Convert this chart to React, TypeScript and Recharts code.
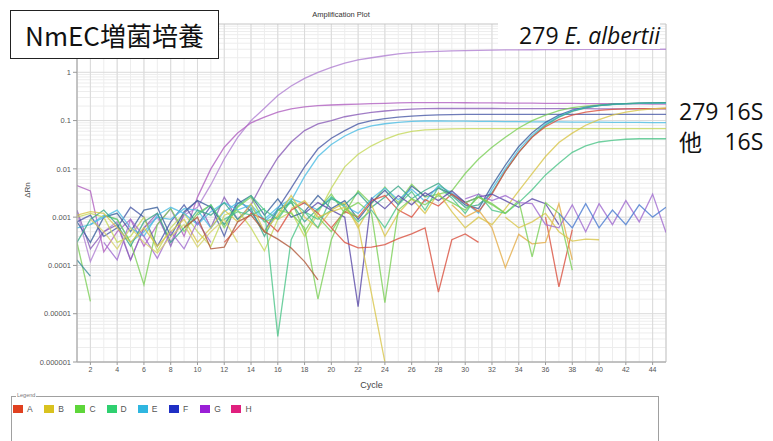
import { LineChart, Line, XAxis, YAxis, CartesianGrid, ReferenceArea } from 'recharts'

// x categories: PCR cycle numbers
const CYCLES = [
  1, 2, 3, 4, 5, 6, 7, 8, 9, 10, 11, 12, 13, 14, 15, 16, 17, 18, 19, 20, 21, 22, 23,
  24, 25, 26, 27, 28, 29, 30, 31, 32, 33, 34, 35, 36, 37, 38, 39, 40, 41, 42, 43, 44, 45,
]
const CYCLE_TICKS = [2, 4, 6, 8, 10, 12, 14, 16, 18, 20, 22, 24, 26, 28, 30, 32, 34, 36, 38, 40, 42, 44]
const RN_TICKS = [0.000001, 0.00001, 0.0001, 0.001, 0.01, 0.1, 1]
const WELL_ROWS = ['A', 'B', 'C', 'D', 'E', 'F', 'G', 'H']

// ΔRn, one value per cycle starting at the given cycle (missing = not drawn)
const at = (start: number, values: number[]) => CYCLES.map(c => values[c - start] ?? null)

// 279 E. albertii wells (early amplification)
const gTop = at(1, [
  1.3e-3, 1.2e-4, 5e-4, 8e-4, 1.3e-4, 6e-4, 1.0e-3, 3e-4, 1.1e-3, 1.6e-3,
  4.7e-3, 1.6e-2, 4.5e-2, 0.1, 0.18, 0.33, 0.52, 0.75, 1.0, 1.27,
  1.55, 1.8, 2.0, 2.2, 2.4, 2.55, 2.65, 2.72, 2.78, 2.82,
  2.85, 2.88, 2.9, 2.92, 2.93, 2.94, 2.95, 2.96, 2.97, 2.97,
  2.98, 2.98, 2.99, 2.99, 3.0,
])
const gSecond = at(1, [
  4.5e-3, 3.5e-3, 1.9e-4, 5e-4, 9e-4, 2.5e-4, 7e-4, 1.5e-3, 4e-4, 2.6e-3,
  1.0e-2, 2.8e-2, 5.5e-2, 0.09, 0.118, 0.15, 0.175, 0.193, 0.203, 0.21,
  0.215, 0.22, 0.225, 0.228, 0.232, 0.235, 0.236, 0.236, 0.235, 0.234,
  0.233, 0.232, 0.231, 0.23, 0.229, 0.228, 0.227, 0.226, 0.225, 0.224,
  0.223, 0.222, 0.221, 0.22, 0.22,
])
const gThird = at(1, [
  1.4e-3, 2.2e-4, 5e-4, 7e-4, 1.3e-4, 6e-4, 1.2e-3, 2.5e-4, 1.2e-3, 2.2e-3,
  6e-4, 2.6e-3, 9e-4, 1.8e-3, 6e-3, 1.7e-2, 3.6e-2, 6.2e-2, 8.5e-2, 0.1,
  0.12, 0.135, 0.148, 0.158, 0.166, 0.172, 0.176, 0.178, 0.178, 0.178,
  0.178, 0.178, 0.177, 0.177, 0.177, 0.176, 0.176, 0.176, 0.176, 0.175,
  0.175, 0.175, 0.175, 0.175, 0.175,
])
const fEarly = at(1, [
  8e-4, 1.1e-3, 4e-4, 6e-4, 1.6e-3, 1.0e-3, 2.5e-4, 8e-4, 1.8e-3, 7e-4,
  1.7e-3, 4e-4, 2.4e-3, 1.3e-3, 5e-4, 1.5e-3, 4.0e-3, 1.1e-2, 2.6e-2, 4.3e-2,
  6.2e-2, 8.5e-2, 0.1, 0.11, 0.118, 0.124, 0.128, 0.131, 0.133, 0.134,
  0.135, 0.135, 0.135, 0.135, 0.135, 0.135, 0.135, 0.135, 0.135, 0.135,
  0.135, 0.135, 0.135, 0.135, 0.135,
])
const eEarly = at(1, [
  6e-4, 7e-4, 1.1e-3, 9e-4, 3e-4, 5e-4, 1.0e-3, 9e-4, 1.5e-3, 1.4e-3,
  6e-4, 1.3e-3, 2.0e-3, 1.6e-3, 8e-4, 1.4e-3, 2.2e-3, 7e-3, 1.8e-2, 3.2e-2,
  4.8e-2, 6.5e-2, 7.8e-2, 8.6e-2, 9.2e-2, 9.6e-2, 9.8e-2, 9.8e-2, 9.7e-2, 9.7e-2,
  9.6e-2, 9.6e-2, 9.5e-2, 9.5e-2, 9.4e-2, 9.4e-2, 9.4e-2, 9.3e-2, 9.3e-2, 9.3e-2,
  9.2e-2, 9.2e-2, 9.2e-2, 9.1e-2, 9.1e-2,
])
const bcEarly = at(1, [
  1.0e-3, 1.2e-3, 1.0e-3, 3e-4, 4e-4, 1.0e-3, 2e-4, 6e-4, 1.2e-3, 5e-4,
  2.5e-4, 1.1e-3, 1.4e-3, 6e-4, 2e-4, 9e-4, 1.3e-3, 4e-4, 1.2e-3, 4.0e-3,
  1.1e-2, 2.0e-2, 3.0e-2, 4.1e-2, 5.2e-2, 6.0e-2, 6.4e-2, 6.6e-2, 6.7e-2, 6.8e-2,
  6.8e-2, 6.8e-2, 6.8e-2, 6.8e-2, 6.8e-2, 6.8e-2, 6.8e-2, 6.8e-2, 6.8e-2, 6.8e-2,
  6.8e-2, 6.8e-2, 6.8e-2, 6.8e-2, 6.8e-2,
])

// other strains, 16S (late amplification)
const cLate = at(3, [
  1.1e-3, 9e-4, 3e-4, 4e-5, 7e-4, 1.5e-3, 5e-4, 1.2e-3, 1.8e-3, 6e-4,
  1.6e-3, 2.6e-3, 8e-4, 1.0e-3, 2.2e-3, 5e-4, 1.4e-3, 3.0e-3, 1.2e-3, 3.5e-3,
  1.9e-3, 4.2e-3, 2.0e-3, 4.8e-3, 2.6e-3, 3.0e-3,
  3.5e-3, 8e-3, 1.6e-2, 2.8e-2, 4.5e-2, 7e-2, 0.1, 0.13, 0.16, 0.185,
  0.2, 0.21, 0.218, 0.224, 0.228, 0.231, 0.233,
])
const fLate = at(1, [
  8e-4, 3e-4, 1.0e-3, 1.2e-3, 5e-4, 1.4e-3, 1.6e-3, 4e-4, 1.3e-3, 2.2e-3,
  1.6e-3, 7e-4, 1.9e-3, 2.8e-3, 1.1e-3, 2.4e-3, 1.0e-3, 1.3e-3, 2.8e-3, 1.5e-3,
  2.2e-3, 9e-4, 2.0e-3, 3.6e-3, 1.8e-3, 4.4e-3, 2.7e-3, 4.0e-3, 3.0e-3, 1.8e-3,
  1.5e-3, 4.5e-3, 1.2e-2, 2.9e-2, 5.6e-2, 9.2e-2, 0.13, 0.165, 0.19, 0.207,
  0.218, 0.225, 0.229, 0.232, 0.234,
])
const eLate = at(2, [
  7e-4, 1.0e-3, 1.4e-3, 6e-4, 4e-4, 1.1e-3, 1.6e-3, 1.2e-3, 7e-4, 1.3e-3,
  2.0e-3, 1.4e-3, 1.8e-3, 9e-4, 1.6e-3, 2.4e-3, 1.9e-3, 1.4e-3, 2.6e-3, 1.7e-3,
  1.2e-3, 2.4e-3, 4.0e-3, 2.3e-3, 3.8e-3, 2.1e-3, 4.5e-3, 3.2e-3, 2.0e-3,
  1.2e-3, 3.8e-3, 1.0e-2, 2.5e-2, 5.0e-2, 8.5e-2, 0.122, 0.158, 0.185, 0.203,
  0.215, 0.222, 0.226, 0.229, 0.231,
])
const dLate = at(1, [
  3e-4, 9e-4, 1.4e-3, 7e-4, 2.5e-4, 8e-4, 1.2e-3, 3e-4, 6e-4, 1.4e-3,
  1.1e-3, 2.0e-3, 9e-4, 1.5e-3, 4e-4, 1.4e-3, 2.0e-3, 8e-4, 1.5e-3, 2.4e-3,
  1.8e-3, 3.2e-3, 1.6e-3, 2.6e-3, 4.4e-3, 2.4e-3, 3.6e-3, 5.0e-3, 2.8e-3, 1.6e-3,
  1.8e-3, 3.2e-3, 9e-3, 2.2e-2, 4.6e-2, 8e-2, 0.118, 0.155, 0.183, 0.203,
  0.216, 0.224, 0.229, 0.233, 0.236,
])
const aLate = at(12, [
  3e-4, 6e-4, 1.2e-3, 9e-4, 5e-4, 1.4e-3, 2.0e-3, 1.2e-3, 6e-4, 1.3e-3,
  1.0e-3, 2.2e-3, 2.8e-3, 1.4e-3, 1.0e-3, 2.3e-3, 1.7e-3, 3.0e-3, 2.0e-3, 1.3e-3,
  3.0e-3, 9e-3, 2.2e-2, 4.5e-2, 7.5e-2, 0.105, 0.13, 0.15, 0.162, 0.17,
  0.174, 0.176, 0.177, 0.178,
])
const bLate = at(1, [
  1.1e-3, 1.3e-3, 1.2e-3, 6e-4, 3e-4, 6e-4, 2.5e-4, 5e-4, 9e-4, 3e-4,
  6e-4, 1.4e-3, 8e-4, 1.9e-3, 5e-4, 1.1e-3, 2.8e-3, 1.0e-3, 6e-4, 1.4e-3,
  2.0e-3, 6e-4, 1.8e-3, 4e-4, 1.2e-3, 2.4e-3, 1.2e-3, 3.2e-3, 1.3e-3, 6e-4,
  1.0e-3, 7e-4, 1.5e-3, 3.5e-3, 8e-3, 1.8e-2, 3.5e-2, 5.5e-2, 8e-2, 0.105,
  0.13, 0.15, 0.165, 0.175, 0.182,
])
const dLow = at(10, [
  1.1e-3, 1.8e-3, 7e-4, 1.7e-3, 2.8e-3, 1.4e-3, 9e-4, 2.2e-3, 1.3e-3, 6e-4,
  2.6e-3, 1.6e-3, 8e-4, 1.4e-3, 6e-4, 1.8e-3, 3.4e-3, 1.4e-3, 4.2e-3, 2.5e-3,
  1.2e-3, 3.0e-3, 1.4e-3, 1.2e-3, 2.0e-3,
  3.7e-3, 7.5e-3, 1.3e-2, 2.2e-2, 3.0e-2, 3.6e-2, 3.9e-2, 4.1e-2, 4.2e-2, 4.2e-2, 4.2e-2,
])

// wells without amplification (noise only)
const cNoiseLeft = at(1, [3e-4, 1.8e-5])
const eNoiseLeft = at(1, [1.3e-4, 6e-5])
const gNoiseLeft = at(3, [3e-4, 1.3e-4, 9e-4, 4e-4, 1.4e-4, 5e-4, 2.2e-4, 8e-4, 3e-4])
const bNoiseLeft = at(2, [9e-4, 5e-4, 2.2e-4, 6e-4, 3e-4, 1.8e-4, 4e-4, 7e-4, 2.4e-4, 5e-4, 9e-4, 3e-4])
const dNoise16 = at(12, [9e-4, 1.3e-3, 1.1e-3, 1.5e-3, 3.4e-6, 3.4e-4, 1.3e-3, 9e-4, 1.4e-3])
const cNoise19 = at(16, [1.4e-3, 1.2e-3, 6e-4, 2e-5, 3.4e-4, 1.5e-3, 1.0e-3])
const fNoise22 = at(18, [
  1.2e-3, 2.0e-3, 1.4e-3, 1.0e-3, 1.4e-5, 2.5e-3, 1.5e-3, 2.8e-3, 1.8e-3, 3.2e-3,
  2.2e-3, 3.5e-3, 2.0e-3, 2.6e-3, 3.0e-3, 2.2e-3, 1.6e-3, 2.4e-3, 1.9e-3, 7e-4,
])
const bNoiseDrop = at(17, [1.5e-3, 2.2e-3, 1.0e-3, 1.3e-3, 1.6e-3, 7e-4, 2.6e-5, 1e-6])
const cNoise24 = at(19, [
  1.0e-3, 5e-4, 1.4e-3, 2.0e-3, 1.2e-3, 1.7e-5, 1.4e-3, 2.4e-3, 1.8e-3, 2.8e-3,
  2.0e-3, 1.4e-3, 2.6e-3, 1.9e-3, 1.2e-3,
])
const aNoise19 = at(9, [6e-4, 1.0e-3, 2.2e-4, 2.4e-4, 8e-4, 1.1e-3, 5e-4, 3.5e-4, 2.3e-4, 1.2e-4, 5e-5])
const aNoise29 = at(20, [6e-4, 3e-4, 2.3e-4, 2.4e-4, 2.7e-4, 3.6e-4, 4.5e-4, 6e-4, 2.8e-5, 3.4e-4, 4.5e-4, 3e-4])
const aNoise37 = at(36, [1.0e-3, 3.6e-5, 5.5e-4])
const bNoise33 = at(29, [1.8e-3, 1.0e-3, 1.4e-3, 6e-4, 9e-5, 4.4e-4, 2.8e-4, 3e-4, 1.9e-3, 1.3e-4])
const cNoise38 = at(30, [2.0e-3, 2.6e-3, 1.8e-3, 1.2e-3, 2.2e-3, 1.5e-4, 2.0e-3, 1.2e-3, 8e-5])
const bNoise40 = at(33, [1.0e-3, 6e-4, 8e-4, 1.2e-3, 5e-4, 3.2e-4, 3.5e-4, 3.4e-4])
const gNoiseRight = at(30, [
  2.4e-3, 3.0e-3, 2.2e-3, 2.8e-3, 2.0e-3, 1.9e-3, 7e-4, 6e-4, 1.8e-3, 5e-4,
  1.9e-3, 7e-4, 2.2e-3, 8e-4, 3.0e-3, 4.8e-4,
])
const fNoiseRight = at(37, [1.2e-3, 6e-4, 1.9e-3, 6e-4, 1.4e-3, 7e-4, 1.8e-3, 1.0e-3, 1.6e-3])

const ROW_COLORS: Record<string, string> = {
  A: '#d9503f', B: '#d8c64a', C: '#7cd058', D: '#4cc488',
  E: '#4cbde3', F: '#34479f', G: '#a06ccf', H: '#d0208a',
}
const LEGEND_COLORS: Record<string, string> = {
  A: '#e0401f', B: '#d9c21f', C: '#5ed63a', D: '#2fd070',
  E: '#2fb6e0', F: '#1f2fc4', G: '#9a1fd6', H: '#e0207e',
}

const SERIES = [
  { key: 'gTop', values: gTop, color: '#b080d2' },
  { key: 'gSecond', values: gSecond, color: '#b060c0' },
  { key: 'gThird', values: gThird, color: '#8a5cb8' },
  { key: 'fEarly', values: fEarly, color: '#4a5aa6' },
  { key: 'eEarly', values: eEarly, color: ROW_COLORS.E },
  { key: 'bcEarly', values: bcEarly, color: '#c4d85a' },
  { key: 'cLate', values: cLate, color: ROW_COLORS.C },
  { key: 'fLate', values: fLate, color: '#3a5f9c' },
  { key: 'eLate', values: eLate, color: ROW_COLORS.E },
  { key: 'dLate', values: dLate, color: '#3aa888' },
  { key: 'aLate', values: aLate, color: ROW_COLORS.A },
  { key: 'bLate', values: bLate, color: ROW_COLORS.B },
  { key: 'dLow', values: dLow, color: ROW_COLORS.D },
  { key: 'cNoiseLeft', values: cNoiseLeft, color: ROW_COLORS.C },
  { key: 'eNoiseLeft', values: eNoiseLeft, color: '#3a8a9a' },
  { key: 'gNoiseLeft', values: gNoiseLeft, color: ROW_COLORS.G },
  { key: 'bNoiseLeft', values: bNoiseLeft, color: '#d6d26a' },
  { key: 'dNoise16', values: dNoise16, color: ROW_COLORS.D },
  { key: 'cNoise19', values: cNoise19, color: ROW_COLORS.C },
  { key: 'fNoise22', values: fNoise22, color: '#5a4aa8' },
  { key: 'bNoiseDrop', values: bNoiseDrop, color: ROW_COLORS.B },
  { key: 'cNoise24', values: cNoise24, color: ROW_COLORS.C },
  { key: 'aNoise19', values: aNoise19, color: '#b0583a' },
  { key: 'aNoise29', values: aNoise29, color: ROW_COLORS.A },
  { key: 'aNoise37', values: aNoise37, color: ROW_COLORS.A },
  { key: 'bNoise33', values: bNoise33, color: '#e4ac48' },
  { key: 'cNoise38', values: cNoise38, color: ROW_COLORS.C },
  { key: 'bNoise40', values: bNoise40, color: ROW_COLORS.B },
  { key: 'gNoiseRight', values: gNoiseRight, color: ROW_COLORS.G },
  { key: 'fNoiseRight', values: fNoiseRight, color: '#4a7ad0' },
]

const rows = CYCLES.map((cycle, i) => {
  const row: Record<string, number | null> = { cycle }
  SERIES.forEach(s => { row[s.key] = s.values[i] })
  return row
})

// log minor grid: 2..9 within every decade
const MINOR_GRID = [0.000001, 0.00001, 0.0001, 0.001, 0.01, 0.1, 1].flatMap(d =>
  [2, 3, 4, 5, 6, 7, 8, 9].map(m => +(m * d).toPrecision(2)))

const FONT = '"Liberation Sans", Arial, sans-serif'

export default function App() {
  return (
    <div style={{ position: 'absolute', left: 0, top: 0, width: 773, height: 441, background: '#fff', overflow: 'hidden', fontFamily: FONT }}>
      <div style={{ position: 'absolute', left: 0, top: 0 }}>
        <LineChart width={700} height={400} data={rows} margin={{ top: 24, right: 34, left: 17, bottom: 10 }}>
          <CartesianGrid stroke="#ededed" verticalValues={CYCLES} horizontalValues={MINOR_GRID} />
          <CartesianGrid stroke="#dadada" verticalValues={CYCLE_TICKS} horizontalValues={RN_TICKS} />
          <XAxis
            type="number"
            dataKey="cycle"
            domain={[1, 45]}
            ticks={CYCLE_TICKS}
            interval={0}
            allowDataOverflow
            height={28}
            tickSize={3}
            tick={{ fontSize: 7, fill: '#555' }}
            tickLine={{ stroke: '#999' }}
            axisLine={{ stroke: '#aaa' }}
            label={{ value: 'Cycle', position: 'insideBottom', offset: 2, fontSize: 9, fill: '#444' }}
          />
          <YAxis
            scale="log"
            domain={[0.000001, 10]}
            ticks={RN_TICKS}
            interval={0}
            allowDataOverflow
            width={60}
            tickSize={4}
            tickFormatter={(v: number) => String(v)}
            tick={{ fontSize: 7.5, fill: '#555' }}
            tickLine={{ stroke: '#999' }}
            axisLine={{ stroke: '#aaa' }}
          />
          <ReferenceArea x1={1} x2={45} y1={0.000001} y2={10} fill="none" stroke="#c4c4c4" ifOverflow="extendDomain" />
          {SERIES.map(s => (
            <Line
              key={s.key}
              type="linear"
              dataKey={s.key}
              stroke={s.color}
              strokeWidth={1.3}
              strokeOpacity={0.8}
              dot={false}
              activeDot={false}
              connectNulls={false}
              isAnimationActive={false}
            />
          ))}
        </LineChart>
      </div>

      <div style={{ position: 'absolute', left: 341, top: 10, transform: 'translateX(-50%)', fontSize: 7.5, color: '#333', whiteSpace: 'nowrap' }}>
        Amplification Plot
      </div>
      <div style={{ position: 'absolute', left: 27, top: 190, transform: 'translate(-50%, -50%) rotate(-90deg)', fontSize: 8, color: '#444' }}>
        ΔRn
      </div>

      <div style={{ position: 'absolute', left: 10, top: 10, width: 207, height: 47, border: '1.5px solid #222', background: '#fff', display: 'flex', alignItems: 'center', justifyContent: 'center', fontFamily: '"Noto Sans CJK JP", "Noto Sans", sans-serif', fontSize: 26, color: '#111', whiteSpace: 'nowrap' }}>
        NmEC増菌培養
      </div>

      <div style={{ position: 'absolute', left: 498, top: 22, width: 162, height: 27, background: '#fff', textAlign: 'right', fontFamily: '"Open Sans", sans-serif', fontSize: 23, lineHeight: '27px', color: '#111', whiteSpace: 'nowrap' }}>
        279 <i>E. albertii</i>
      </div>

      <div style={{ position: 'absolute', left: 679, top: 96, fontFamily: '"Open Sans", sans-serif', fontSize: 23, lineHeight: '30px', color: '#111', whiteSpace: 'nowrap' }}>
        <div>279 16S</div>
        <div style={{ display: 'flex', justifyContent: 'space-between' }}>
          <span style={{ fontFamily: '"Noto Sans CJK JP", sans-serif' }}>他</span>
          <span>16S</span>
        </div>
      </div>

      <div style={{ position: 'absolute', left: 11, top: 396, width: 646, height: 60, borderTop: '1px solid #a0a0a0', borderLeft: '1px solid #a0a0a0', borderRight: '1px solid #a0a0a0' }} />
      <div style={{ position: 'absolute', left: 16, top: 392, padding: '0 1px', background: '#fff', fontSize: 5.5, color: '#777' }}>
        Legend
      </div>
      {WELL_ROWS.map((r, i) => (
        <div key={r} style={{ position: 'absolute', left: 13 + i * 31.2, top: 404, display: 'flex', alignItems: 'center', fontSize: 8.5, color: '#555' }}>
          <span style={{ display: 'inline-block', width: 10, height: 8, background: LEGEND_COLORS[r], marginRight: 4 }} />
          {r}
        </div>
      ))}
    </div>
  )
}
